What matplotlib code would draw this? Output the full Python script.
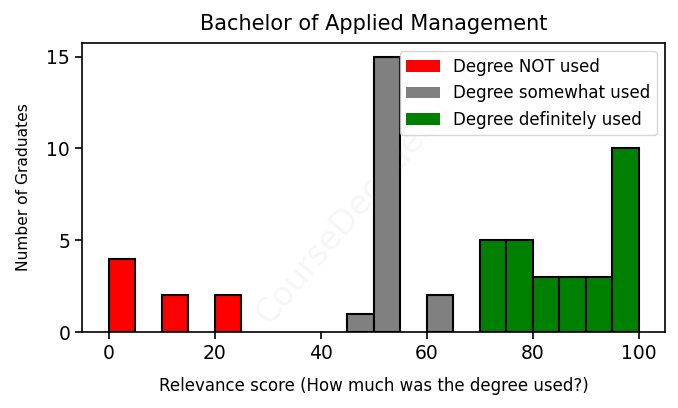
import matplotlib
matplotlib.use('Agg')
import matplotlib.pyplot as plt
from matplotlib.patches import Patch

# left edge of each 5-point bin and the number of graduates in it
not_used_bins = [0, 10, 20]
not_used_counts = [4, 2, 2]
somewhat_bins = [45, 50, 60]
somewhat_counts = [1, 15, 2]
definitely_bins = [70, 75, 80, 85, 90, 95]
definitely_counts = [5, 5, 3, 3, 3, 10]

labels = ['Degree NOT used', 'Degree somewhat used', 'Degree definitely used']
colors = ['red', 'gray', 'green']

fig, ax = plt.subplots(figsize=(6.78, 4.08), dpi=100)

groups = [(not_used_bins, not_used_counts), (somewhat_bins, somewhat_counts),
          (definitely_bins, definitely_counts)]
for (bins, counts), c in zip(groups, colors):
    ax.bar(bins, counts, width=5, align='edge', color=c, edgecolor='black', linewidth=1.5)

ax.set_xlim(-5, 105)
ax.set_ylim(0, 15.75)
ax.set_yticks([0, 5, 10, 15])
ax.tick_params(labelsize=13.5, width=1.2, length=5)
for s in ax.spines.values():
    s.set_linewidth(1.2)

ax.set_title('Bachelor of Applied Management', fontsize=15, pad=9)
ax.set_xlabel('Relevance score (How much was the degree used?)', fontsize=12, labelpad=10)
ax.set_ylabel('Number of Graduates', fontsize=11.2, labelpad=11)

handles = [Patch(facecolor=c, label=l) for c, l in zip(colors, labels)]
ax.legend(handles=handles, loc='upper right', fontsize=12)

# faint watermark
ax.text(0.5, 0.5, 'CourseDecoded.com', transform=ax.transAxes, fontsize=24,
        color='gray', alpha=0.07, rotation=50, ha='center', va='center')

fig.subplots_adjust(left=0.121, right=0.981, top=0.895, bottom=0.186)
fig.savefig('out.png', dpi=100)
